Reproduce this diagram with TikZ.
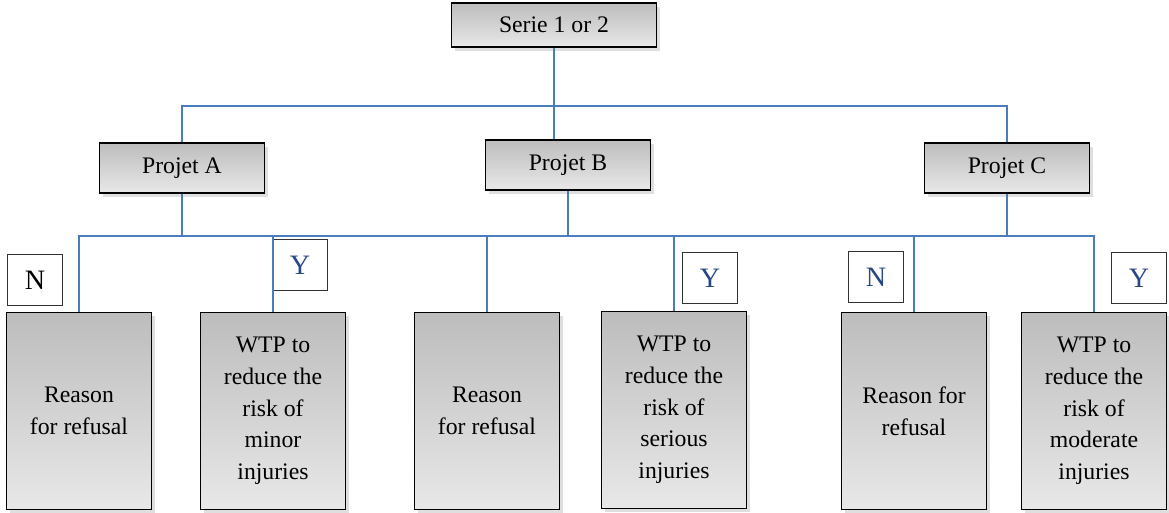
\documentclass[tikz,border=0pt]{standalone}
\usepackage{fontspec}
\setmainfont{Liberation Serif}
\usepackage{tikz}
\usetikzlibrary{positioning,calc,shadows}

\definecolor{linkblue}{RGB}{74,126,187}
\definecolor{letterblue}{RGB}{40,70,130}

\begin{document}
\begin{tikzpicture}[x=0.02cm, y=-0.02cm,
                boxnode/.style={rectangle, draw=black, line width=1.1pt, top color=gray!52, bottom color=gray!18,
                    drop shadow={shadow xshift=2pt, shadow yshift=-2pt, opacity=0.25},
                    font=\fontsize{13.5pt}{18pt}\selectfont, align=center, inner sep=2pt},
                topnode/.style={boxnode, minimum width=4.1cm, minimum height=0.88cm},
                projnode/.style={boxnode, minimum width=3.3cm, minimum height=1cm},
                leafnode/.style={boxnode, minimum width=2.9cm, minimum height=3.94cm},
                ynnode/.style={rectangle, draw=black!80, line width=0.8pt, fill=white,
                    minimum width=1.1cm, minimum height=1.02cm, font=\fontsize{16pt}{18pt}\selectfont},
                link/.style={draw=linkblue, line width=1pt},
            ]

            \useasboundingbox (0,0) rectangle (1169,513);

            % top
            \node[topnode] (serie) at (554, 25) {Serie 1 or 2};

            % projects
            \node[projnode] (pA) at (182, 168) {Projet A};
            \node[projnode] (pB) at (568, 165) {Projet B};
            \node[projnode] (pC) at (1007, 168) {Projet C};

            % answers
            \node[leafnode] (r1) at (79, 411) {Reason\\for refusal};
            \node[leafnode] (w1) at (273, 411) {WTP to\\reduce the\\risk of\\minor\\injuries};
            \node[leafnode] (r2) at (487, 411) {Reason\\for refusal};
            \node[leafnode] (w2) at (674, 410) {WTP to\\reduce the\\risk of\\serious\\injuries};
            \node[leafnode] (r3) at (914, 411) {Reason for\\refusal};
            \node[leafnode] (w3) at (1094, 411) {WTP to\\reduce the\\risk of\\moderate\\injuries};

            % N / Y
            \node[ynnode] (n1) at (35, 280) {N};
            \node[ynnode, text=letterblue] (y1) at (300, 265) {Y};
            \node[ynnode, text=letterblue] (y2) at (710, 278) {Y};
            \node[ynnode, text=letterblue] (n2) at (876, 277) {N};
            \node[ynnode, text=letterblue] (y3) at (1139, 278) {Y};

            % links, first level
            \coordinate (b1) at (557, 106);
            \draw[link] (serie.south) -- (serie.south |- pB.north);
            \draw[link] (pA.north) -- (pA.north |- b1) -| (pC.north);

            % links, second level
            \coordinate (b2) at (562, 236);
            \draw[link] (r1.north) |- (b2) -| (w3.north);
            \draw[link] (pA.south) -- (pA.south |- b2);
            \draw[link] (pB.south) -- (pB.south |- b2);
            \draw[link] (pC.south) -- (pC.south |- b2);
            \draw[link] (w1.north) -- (w1.north |- b2);
            \draw[link] (r2.north) -- (r2.north |- b2);
            \draw[link] (w2.north) -- (w2.north |- b2);
            \draw[link] (r3.north) -- (r3.north |- b2);
        \end{tikzpicture}
\end{document}
